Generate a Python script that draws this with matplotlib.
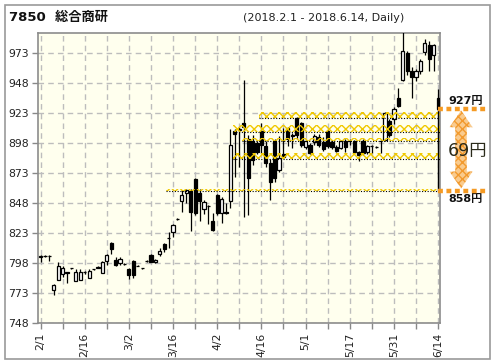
import matplotlib
matplotlib.use('Agg')
import matplotlib.pyplot as plt
from matplotlib.patches import Rectangle, Polygon
import numpy as np

plt.rcParams['font.family'] = ['DejaVu Sans', 'Noto Sans CJK JP']
plt.rcParams['hatch.linewidth'] = 1.0

# ---------------- data ----------------
dates = ['2/1','2/2','2/5','2/6','2/7','2/8','2/9','2/13','2/14','2/15','2/16','2/19','2/20','2/21','2/22','2/23','2/26','2/27','2/28',
         '3/1','3/2','3/5','3/6','3/7','3/8','3/9','3/12','3/13','3/14','3/15','3/16','3/19','3/20','3/22','3/23','3/26','3/27','3/28','3/29','3/30',
         '4/2','4/3','4/4','4/5','4/6','4/9','4/10','4/11','4/12','4/13','4/16','4/17','4/18','4/19','4/20','4/23','4/24','4/25','4/26','4/27',
         '5/1','5/2','5/7','5/8','5/9','5/10','5/11','5/14','5/15','5/16','5/17','5/18','5/21','5/22','5/23','5/24','5/25','5/28','5/29','5/30','5/31',
         '6/1','6/4','6/5','6/6','6/7','6/8','6/11','6/12','6/13','6/14']

opens  = [803,804,804,776,784,789,791,794,783,784,791,786,793,794,790,800,815,801,798,797.5,
          793,800,796,794,800,805,799,806,814,819,824,835,850,857,858,868,857,843,846,833,
          855,840,841,850,908,909,915,902,900,898,908,896,882,900,876,889,911,905,919,915,
          895,897,899,903,899,908,899,895,894,900,900,900,891,900,891,896,895,900,901,917,
          918,936,951,973,958,953,958,974,980,972,936]
highs  = [805,805,805,781,799,796,791,794.5,793,793,791.5,793,793.5,795.5,800,806,816,803,803,798,
          794,801,796.5,794.5,800.5,806,801.5,810.5,815,824.5,831,835.5,859,860,860,869,860,851,847,840,
          856,853,848,910,910,912,951,905,905,900,915,900,885,902,904,911,912,907,920,916,
          901,898,906,906,903,910,901,897,901,902,902,901,892,902,897,896.5,895.5,901,924,918,
          928,944,992,975,962,960,968,985,983,981,943]
lows   = [799,803,800,772,784,787,782,793.5,783,784,789,786,792.5,794,790,797,806,796,797,797,
          785,786,795.5,793.5,799.5,799,798.5,804,807.7,810.6,820,834.5,841,848,825,838,833,839,831,825,
          838,832,839,844,870,878,837,838,880,889,890,878,851,866,874,886,896,894,902,895,
          893,889,897,895,892,894,893,891,893,891,897,889,883,888,889,890,894.5,890,900,903,
          914,928,950,955,936,950,956,972,958,958,926]
closes = [804,804,804,780,796,794,790,794,791,791,791,792,793,795,799,805,810,797,802,797.5,
          788,788,796,794,800,799,801,808.5,810,819,830,835,855,859,841,840,850,849,846,826,
          840,852,840,897,906,910,912,869,884,891,897,882,866,869,886,887,902,904,905,897,
          900,890,904,897,893,896,895,892,900,895,900,891,888,890,896,896,895,900,923,905,
          927,929,975,958,953,958,967,982,968,980,927]

tick_labels = ['2/1','2/16','3/2','3/16','4/2','4/16','5/1','5/17','5/31','6/14']
y_ticks = [748, 773, 798, 823, 848, 873, 898, 923, 948, 973]

# support / resistance zones: start date, lower, upper
band_starts = ['4/16', '4/6', '4/10', '4/6', '3/15']
band_lows   = [919, 907.5, 899.8, 885, 858]
band_highs  = [923.8, 913.6, 902.4, 890, 859.8]

range_high = 927
range_low = 858
range_label = '69円'

# ---------------- figure ----------------
W, H = 496, 364
fig = plt.figure(figsize=(W/100, H/100), dpi=100)
fig.patch.set_facecolor('white')
fig.add_artist(Rectangle((5/W, 1-359/H), 485/W, 354/H, transform=fig.transFigure,
                         fill=False, edgecolor='#9a9a9a', lw=1.2))

ax = fig.add_axes([38.3/W, 1-323.3/H, 402/W, 290.6/H])
ax.set_facecolor('#FFFFEE')

x = np.arange(len(dates))
o = np.array(opens); c = np.array(closes); hi = np.array(highs); lo = np.array(lows)
up = c >= o
body_w = 0.72

ax.vlines(x, lo, hi, color='black', lw=0.9, zorder=3)
bottom = np.minimum(o, c)
height = np.abs(c - o)
ax.bar(x[up], height[up], bottom=bottom[up], width=body_w, facecolor='white',
       edgecolor='black', lw=0.9, zorder=4)
ax.bar(x[~up], height[~up], bottom=bottom[~up], width=body_w, facecolor='black',
       edgecolor='black', lw=0.9, zorder=4)

# zones
xmax = len(dates) - 0.5
for s, bl, bh in zip(band_starts, band_lows, band_highs):
    xs = dates.index(s) - 0.5
    ax.fill_between([xs, xmax], bl, bh, facecolor='none',
                    edgecolor='#F0C800', hatch='xxxx', lw=0, zorder=5)
    ax.hlines(bl, xs, xmax, colors='black', linestyles=(0, (1, 1.5)), lw=0.8, zorder=6)

# vertical range line at last candle
ax.vlines(x[-1], range_low, range_high, color='black', lw=1.0, zorder=6)

# axes styling
ax.set_xlim(-0.5, len(dates) - 0.5)
ax.set_ylim(748, 990.3)
ax.set_yticks(y_ticks)
ax.set_yticklabels([str(v) for v in y_ticks], fontsize=7.8, color='#222222')
major = [dates.index(t) for t in tick_labels]
ax.set_xticks(major)
ax.set_xticklabels(tick_labels, rotation=90, fontsize=7.8, color='#222222')
ax.set_xticks(np.arange(5, len(dates), 10), minor=True)
ax.tick_params(axis='both', which='both', length=4, color='#888888', width=1)
ax.tick_params(axis='y', pad=3)
ax.tick_params(axis='x', pad=3)
ax.grid(True, which='both', color='#BDBDBD', linestyle=(0, (4, 3)), lw=1, zorder=1)
ax.set_axisbelow(True)
for sp in ax.spines.values():
    sp.set_color('#8c8c8c')
    sp.set_linewidth(1.2)

# right-side range annotation
orange = '#F59A23'
xr0, xr1 = x[-1], x[-1] + 11
for v in (range_high, range_low):
    ax.plot([xr0, xr1], [v, v], color=orange, lw=3.2, linestyle=(0, (1.1, 0.8)),
            solid_capstyle='butt', dash_capstyle='butt', clip_on=False, zorder=7)
xc = x[-1] + 5.2
hw, sw, hl = 2.6, 1.3, 14
top = range_high - 1.5
bot = range_low + 2.5
pts = [(xc, top), (xc + hw, top - hl), (xc + sw, top - hl), (xc + sw, bot + hl),
       (xc + hw, bot + hl), (xc, bot), (xc - hw, bot + hl), (xc - sw, bot + hl),
       (xc - sw, top - hl), (xc - hw, top - hl)]
ax.add_patch(Polygon(pts, closed=True, facecolor='#F9CB8E', edgecolor='#F29A2E',
                     hatch='xxxx', lw=0, clip_on=False, zorder=7))
ax.text(xc + 1.0, range_high + 2.5, f'{range_high}円', fontsize=8, fontweight='bold',
        ha='center', va='bottom', color='#111111', clip_on=False)
ax.text(xc + 1.0, range_low - 2.5, f'{range_low}円', fontsize=8, fontweight='bold',
        ha='center', va='top', color='#111111', clip_on=False)
ax.text(xc + 1.5, (range_high + range_low) / 2 - 1, range_label, fontsize=12.5,
        ha='center', va='center', color='#2a2a1a', clip_on=False, zorder=8)

# header
fig.text(9/W, 1-17/H, '7850  総合商研', fontsize=9.5, fontweight='bold', ha='left',
         va='center', color='#111111')
fig.text(243/W, 1-18/H, '(2018.2.1 - 2018.6.14, Daily)', fontsize=8, ha='left',
         va='center', color='#222222')

fig.savefig('out.png', dpi=100)
